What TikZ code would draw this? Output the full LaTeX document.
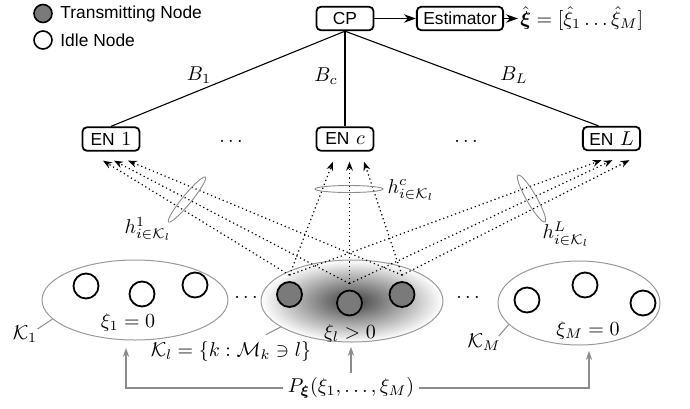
\documentclass[tikz,border=0pt]{standalone}
\usepackage{amsmath,amssymb}
\usepackage{fontspec}
\newfontfamily\sfx{Liberation Sans}
\newcommand{\sftxt}[1]{{\sfx\fontsize{8.7}{10}\selectfont #1}}
\usetikzlibrary{shapes.geometric,arrows.meta,calc}
\begin{document}
\begin{tikzpicture}[x=0.5pt,y=-0.5pt,
  every node/.style={inner sep=2pt},
  box/.style={draw, line width=0.9pt, rounded corners=2.2pt, minimum height=11.75pt, inner xsep=3.2pt, inner ysep=0pt},
  enbox/.style={box, minimum width=28.5pt},
  tnode/.style={circle, draw, line width=0.9pt, fill=black!52, minimum size=12.5pt, inner sep=0pt},
  inode/.style={circle, draw, line width=0.9pt, fill=white, minimum size=12.5pt, inner sep=0pt},
  grp/.style={ellipse, draw=black!40, line width=0.5pt, inner sep=0pt},
  link/.style={line width=0.55pt},
  arr/.style={line width=0.8pt, -{Stealth[length=6pt,width=4.2pt]}},
  dotarr/.style={line width=0.6pt, dash pattern=on 0.6pt off 1.5pt, -{Stealth[length=4.5pt,width=3.4pt]}},
  gmark/.style={draw=black!45, line width=0.45pt},
  ptr/.style={draw=black!45, line width=0.5pt},
  garr/.style={draw=black!45, line width=0.6pt, -{Stealth[length=4.5pt,width=3.2pt]}}
]
\useasboundingbox (0,0) rectangle (690,408);

% legend
\node[tnode, minimum size=9pt, line width=0.8pt] (lgT) at (43,13.5) {};
\node[anchor=west] (lgTt) at (56,13.5) {\sftxt{Transmitting Node}};
\node[inode, minimum size=9pt, line width=0.8pt] (lgI) at (43,40) {};
\node[anchor=west] (lgIt) at (56,40) {\sftxt{Idle Node}};

% top chain
\node[enbox] (CP) at (345,18.5) {\sftxt{CP}};
\node[box] (Est) at (460,18.5) {\sftxt{Estimator}};
\node[anchor=west, inner sep=1pt] (xh) at (518,18.5) {$\hat{\boldsymbol{\xi}} = [\hat{\xi}_1 \ldots \hat{\xi}_M]$};
\draw[arr] (CP) -- (Est);
\draw[arr] (Est) -- (xh);

% edge nodes
\node[enbox] (EN1) at (111,139) {\sftxt{EN} $1$};
\node[enbox] (ENc) at (345,139) {\sftxt{EN} $c$};
\node[enbox] (ENL) at (611.5,138.5) {\sftxt{EN} $L$};
\node (d1) at (231,141.5) {$\ldots$};
\node (d2) at (466,141.5) {$\ldots$};

\draw[link] (CP.south) -- (EN1.north);
\draw[link] (CP.south) -- (ENc.north);
\draw[link] (CP.south) -- ([xshift=-6.5pt]ENL.north);
\node (B1) at (199,75) {$B_1$};
\node (Bc) at (326,76) {$B_c$};
\node (BL) at (514,75) {$B_L$};

% groups
\node[grp, minimum width=93pt, minimum height=40pt] (G1) at (135,300) {};
\node[grp, minimum width=91pt, minimum height=41pt, inner color=black!75, outer color=white] (Gl) at (352,301) {};
\node[grp, minimum width=81pt, minimum height=42pt] (GM) at (579,303) {};

\node[inode] (a1) at (86,286) {};
\node[inode] (a2) at (142,294) {};
\node[inode] (a3) at (195,285) {};
\node[tnode] (T1) at (289.5,294.5) {};
\node[tnode] (T2) at (349.5,303) {};
\node[tnode] (T3) at (402,294.5) {};
\node[inode] (c1) at (527,300) {};
\node[inode] (c2) at (585,285) {};
\node[inode] (c3) at (643,303) {};

\node (d3) at (246,297) {$\ldots$};
\node (d4) at (468,297) {$\ldots$};

\node (x1) at (128,322) {$\xi_1 = 0$};
\node (xl) at (350,333) {$\xi_l > 0$};
\node (xM) at (588,330) {$\xi_M = 0$};
\node (K1) at (25,334) {$\mathcal{K}_1$};
\node (Kl) at (231,351) {$\mathcal{K}_l = \{k : \mathcal{M}_k \ni l\}$};
\node (KM) at (484,342) {$\mathcal{K}_M$};
\draw[ptr] ($(K1.east)+(-4,-5)$) -- (G1.193);
\draw[ptr] ($(Kl.north)+(35,-2)$) -- (Gl.200);
\draw[ptr] ($(KM.east)+(-6,-6)$) -- (GM.197);

% dotted channels
\coordinate (s1) at ($(T1.north)+(0,-6)$);
\coordinate (s2) at ($(T2.north)+(0,-6)$);
\coordinate (s3) at ($(T3.north)+(0,-6)$);
\coordinate (e11) at ($(EN1.south)+(-8,9)$);
\coordinate (e12) at ($(EN1.south)+(3,9)$);
\coordinate (e13) at ($(EN1.south)+(17,9)$);
\coordinate (ec1) at ($(ENc.south)+(-12,10)$);
\coordinate (ec2) at ($(ENc.south)+(4.5,10)$);
\coordinate (ec3) at ($(ENc.south)+(19,10)$);
\coordinate (eL1) at ($(ENL.south)+(-10,9)$);
\coordinate (eL2) at ($(ENL.south)+(1,9)$);
\coordinate (eL3) at ($(ENL.south)+(18,9)$);
\draw[dotarr] (s1) -- (e11);
\draw[dotarr] (s2) -- (e12);
\draw[dotarr] (s3) -- (e13);
\draw[dotarr] (s1) -- (ec1);
\draw[dotarr] (s2) -- (ec2);
\draw[dotarr] (s3) -- (ec3);
\draw[dotarr] (s1) -- (eL1);
\draw[dotarr] (s2) -- (eL2);
\draw[dotarr] (s3) -- (eL3);

% channel markers
\draw[gmark, rotate around={50.6:(187,199.5)}] (187,199.5) ellipse (29 and 4.5);
\draw[gmark] (349,189) ellipse (34 and 3.5);
\draw[gmark, rotate around={-60:(531.5,198.5)}] (531.5,198.5) ellipse (27 and 5);
\node (h1) at (148,229) {$h^{1}_{i\in\mathcal{K}_l}$};
\node (hc) at (411,190) {$h^{c}_{i\in\mathcal{K}_l}$};
\node (hL) at (566,234) {$h^{L}_{i\in\mathcal{K}_l}$};

% prior
\node (P) at (351,388) {$P_{\boldsymbol{\xi}}(\xi_1,\ldots,\xi_M)$};
\coordinate (pa) at (126,348);
\coordinate (pb) at (351,347);
\coordinate (pc) at (589,351);
\draw[garr] (P.west) -| (pa);
\draw[garr] (P.north) -- (pb);
\draw[garr] (P.east) -| (pc);
\end{tikzpicture}
\end{document}
